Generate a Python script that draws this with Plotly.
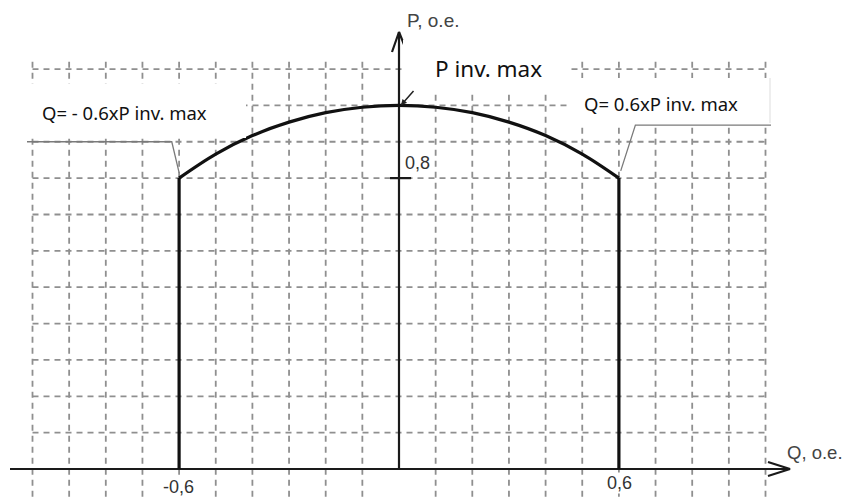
import plotly.graph_objects as go

# capability curve (Q, P in per unit)
arc_q = [-0.6, -0.5, -0.4, -0.3, -0.2, -0.1, 0.0, 0.1, 0.2, 0.3, 0.4, 0.5, 0.6]
arc_p = [0.8, 0.866, 0.917, 0.954, 0.98, 0.995, 1.0, 0.995, 0.98, 0.954, 0.917, 0.866, 0.8]
limit_q = [-0.6, 0.6]
limit_p = [0.0, 0.8]

grid_q = [-1.0, -0.9, -0.8, -0.7, -0.6, -0.5, -0.4, -0.3, -0.2, -0.1,
          0.1, 0.2, 0.3, 0.4, 0.5, 0.6, 0.7, 0.8, 0.9, 1.0]
grid_p = [0.1, 0.2, 0.3, 0.4, 0.5, 0.6, 0.7, 0.8, 0.9, 1.0, 1.1]

# leader lines of the two Q limit labels
lead_left_q = [-1.015, -0.62, -0.6]
lead_left_p = [0.9, 0.9, 0.815]
lead_right_q = [1.015, 0.645, 0.605]
lead_right_p = [0.946, 0.946, 0.82]

# the page body has an 8px margin, so the figure is 8px smaller and shifted
OFF = 8
W, H = 851 - OFF, 500 - OFF
X0, XS = 399, 366.5   # window pixel of Q=0, pixels per unit
Y0, YS = 469, 363.6   # window pixel of P=0, pixels per unit


def qx(px):
    return (px - X0) / XS


def py(px):
    return (Y0 - px) / YS


def paper(px, pyx):
    return (px - OFF) / W, 1 - (pyx - OFF) / H


fig = go.Figure()

grid_style = dict(color="#8f8f8f", width=1.8, dash="6px,5px")
gx, gy = [], []
for q in grid_q:
    gx += [q, q, None]
    gy += [1.12, py(500), None]
fig.add_trace(go.Scatter(x=gx, y=gy, mode="lines", line=grid_style, hoverinfo="skip"))
hx, hy = [], []
for p in grid_p:
    hx += [-1.0, 1.0, None]
    hy += [p, p, None]
fig.add_trace(go.Scatter(x=hx, y=hy, mode="lines", line=grid_style, hoverinfo="skip"))

# leaders
for lq, lp in [(lead_left_q, lead_left_p), (lead_right_q, lead_right_p)]:
    fig.add_trace(go.Scatter(x=lq, y=lp, mode="lines",
                             line=dict(color="#7a7a7a", width=1.3), hoverinfo="skip"))

# axes with open arrow heads
axis = dict(color="#1a1a1a", width=2.2)
fig.add_trace(go.Scatter(x=[qx(10), qx(790)], y=[0, 0], mode="lines", line=axis))
fig.add_trace(go.Scatter(x=[qx(768), qx(790), qx(768)], y=[py(462), 0, py(476)],
                         mode="lines", line=axis))
fig.add_trace(go.Scatter(x=[0, 0], y=[0, py(32)], mode="lines", line=axis))
fig.add_trace(go.Scatter(x=[qx(392), 0, qx(407)], y=[py(52), py(32), py(52)],
                         mode="lines", line=axis))
# tick at 0.8
fig.add_trace(go.Scatter(x=[qx(390), qx(411)], y=[0.8, 0.8], mode="lines", line=axis))

# capability boundary
bold = dict(color="#111111", width=3.2)
for q in limit_q:
    fig.add_trace(go.Scatter(x=[q, q], y=limit_p, mode="lines", line=bold))
fig.add_trace(go.Scatter(x=arc_q, y=arc_p, mode="lines", line=dict(shape="spline", **bold)))

# white patches behind the labels
shapes = []
for x0, y0, x1, y1 in [(28, 84, 246, 138), (403, 40, 567, 92), (567, 78, 770, 123)]:
    a, b = paper(x0, y0)
    c, d = paper(x1, y1)
    shapes.append(dict(type="rect", xref="paper", yref="paper", x0=a, y0=d, x1=c, y1=b,
                       fillcolor="white", line_width=0, layer="above"))
a, b = paper(770, 78)
c, d = paper(770, 123)
shapes.append(dict(type="line", xref="paper", yref="paper", x0=a, x1=c, y0=d, y1=b,
                   line=dict(color="#dddddd", width=1), layer="above"))

annotations = []


def label(text, px, pyx, size, family, color="#111111", xanchor="left", bg=None):
    x, y = paper(px, pyx)
    annotations.append(dict(text=text, x=x, y=y, xref="paper", yref="paper",
                            xanchor=xanchor, yanchor="middle", showarrow=False,
                            bgcolor=bg, borderpad=0,
                            font=dict(size=size, family=family, color=color)))


label("Q= - 0.6xP inv. max", 41, 113, 18.5, "Noto Sans")
label("P inv. max", 434, 68, 22.5, "Noto Sans")
label("Q= 0.6xP inv. max", 583, 103, 18.5, "Noto Sans")
label("P, o.e.", 406, 20, 19, "Liberation Sans", "#444444")
label("Q, o.e.", 786, 452, 18.5, "Liberation Sans", "#444444")
label("0,8", 404, 163, 18, "Liberation Sans", "#333333")
label("-0,6", 178, 487, 18, "Liberation Sans", "#333333", "center", "white")
label("0,6", 619, 483, 18, "Liberation Sans", "#333333", "center", "white")

annotations.append(dict(x=0.005, y=1.0, xref="x", yref="y", ax=14, ay=-16, text="",
                        showarrow=True, arrowhead=2, arrowsize=0.8, arrowwidth=1.5,
                        arrowcolor="#222222"))

fig.update_layout(
    width=W, height=H,
    margin=dict(l=0, r=0, t=0, b=0),
    paper_bgcolor="white", plot_bgcolor="white",
    showlegend=False,
    xaxis=dict(range=[qx(OFF), qx(851)], visible=False, fixedrange=True),
    yaxis=dict(range=[py(500), py(OFF)], visible=False, fixedrange=True),
    shapes=shapes, annotations=annotations,
)

fig.write_html("out.html")
